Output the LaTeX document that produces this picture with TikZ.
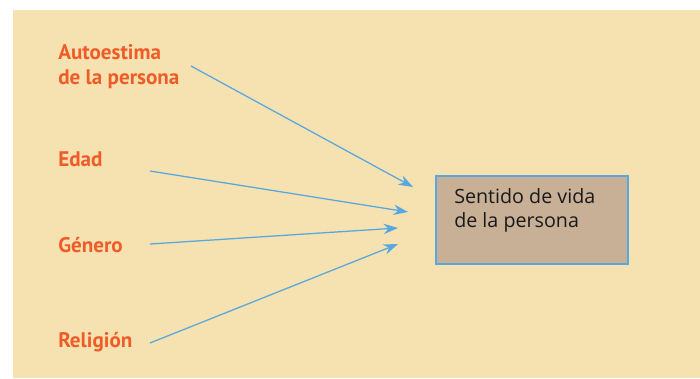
\documentclass[tikz,border=0pt]{standalone}
\usepackage{fontspec}
\setmainfont{PT Sans}
\newfontfamily\cajafont{Open Sans}
\usepackage{tikz}
\usetikzlibrary{positioning, arrows.meta, calc}

\definecolor{fondo}{RGB}{246,225,176}
\definecolor{caja}{RGB}{200,176,150}
\definecolor{azul}{RGB}{88,168,224}
\definecolor{naranja}{RGB}{240,92,40}

\begin{document}
\begin{tikzpicture}[
        x=0.025cm, y=-0.025cm,
        factor/.style={anchor=base west, inner sep=0pt, align=left, text=naranja, font=\fontsize{15}{17.5}\selectfont\bfseries},
        box/.style={draw=azul, line width=1pt, fill=caja, minimum width=4.8cm, minimum height=2.2cm},
        boxtext/.style={anchor=base west, inner sep=0pt, align=left, text=black!90, font=\cajafont\fontsize{14}{17}\selectfont},
        arrow/.style={-{Stealth[length=3.6mm, width=2.6mm]}, azul, line width=0.9pt}
    ]

    \useasboundingbox (0,0) rectangle (700,378);
    \fill[fondo] (13,10) rectangle (700,378);

    % Nodes (base = baseline of the last line)
    \node [factor] (autoestima) at (58,84) {Autoestima\\de la persona};
    \node [factor] (edad) at (58,166) {Edad};
    \node [factor] (genero) at (58,252) {Género};
    \node [factor] (religion) at (58,347) {Religión};

    \node [box] (sentido) at (532,220) {};
    \node [boxtext] (sentidotext) at (454,227) {Sentido de vida\\de la persona};

    % Arrow ends
    \coordinate (a1) at (191,66);
    \coordinate (a2) at (150,171);
    \coordinate (a3) at (150,244);
    \coordinate (a4) at (150,343);
    \coordinate (t1) at (413,187);
    \coordinate (t2) at (408,212);
    \coordinate (t3) at (398,228);
    \coordinate (t4) at (398,244);

    % Arrows
    \draw[arrow] (a1) -- (t1);
    \draw[arrow] (a2) -- (t2);
    \draw[arrow] (a3) -- (t3);
    \draw[arrow] (a4) -- (t4);

\end{tikzpicture}
\end{document}
